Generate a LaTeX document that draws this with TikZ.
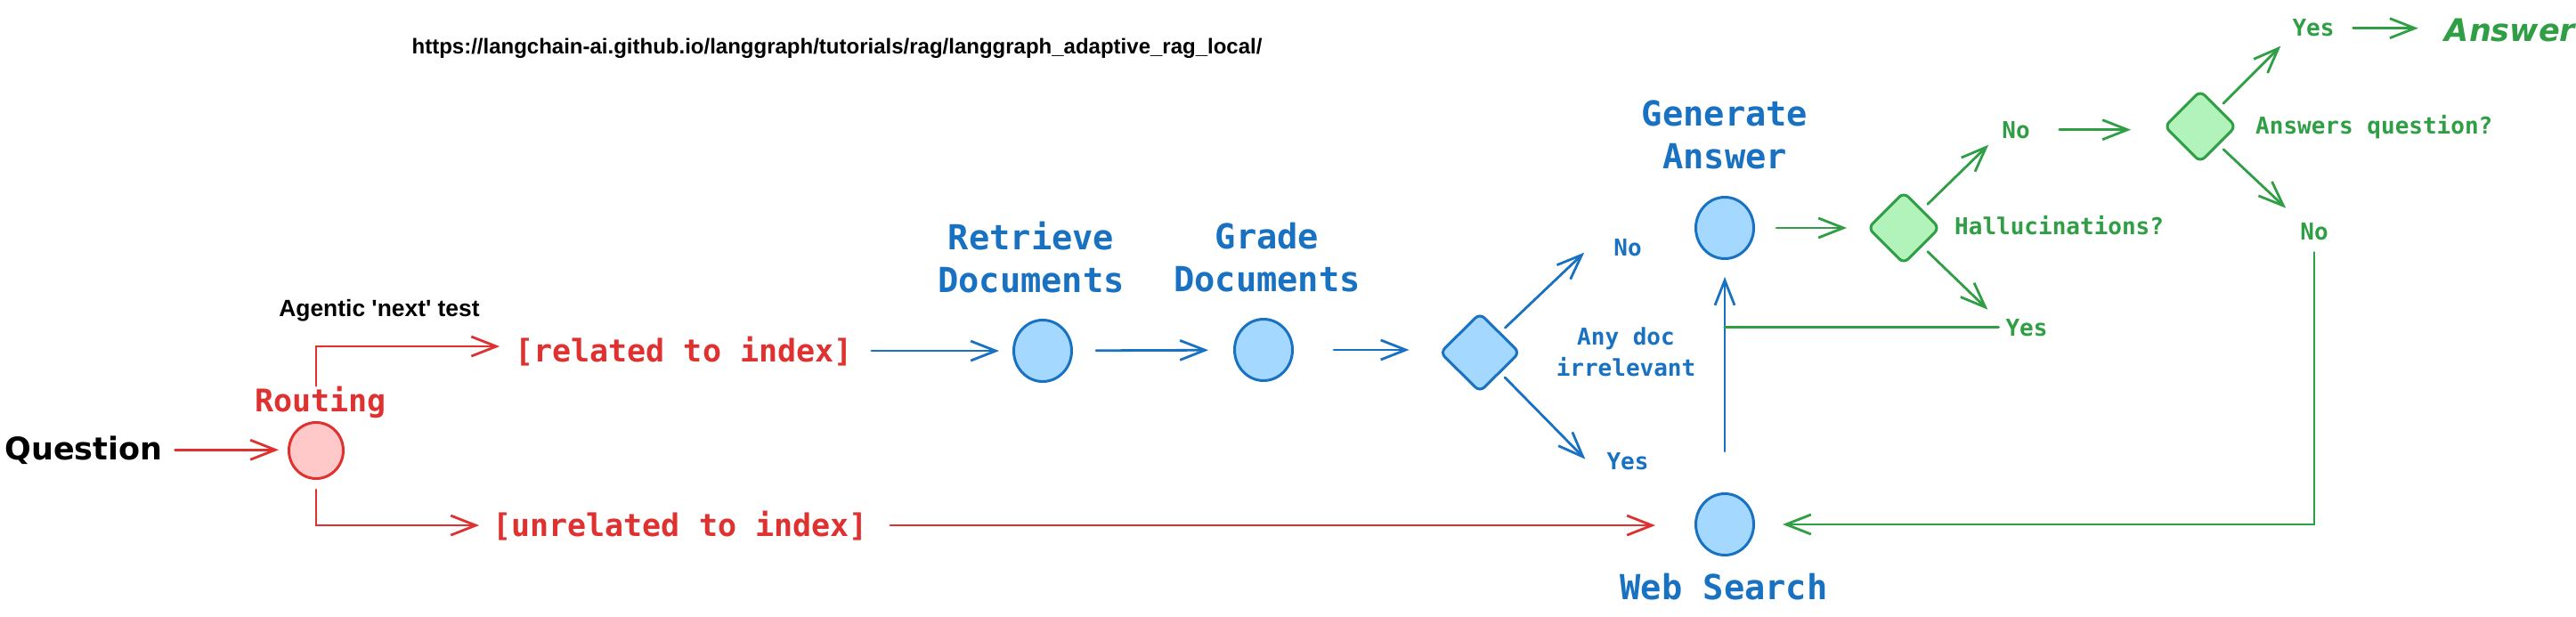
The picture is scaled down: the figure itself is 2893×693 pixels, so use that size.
\documentclass[tikz,border=0pt]{standalone}
\usepackage{fontspec}
\usepackage{tikz}
\usetikzlibrary{arrows.meta,shapes.geometric}
\newfontfamily\rgmono{DejaVu Sans Mono Bold}
\newfontfamily\rgsans{Liberation Sans}
\newfontfamily\rghand{DejaVu Sans}
\definecolor{rgred}{RGB}{224,49,49}
\definecolor{rgredfill}{RGB}{255,201,201}
\definecolor{rgblue}{RGB}{25,113,194}
\definecolor{rgbluefill}{RGB}{165,216,255}
\definecolor{rggreen}{RGB}{47,158,68}
\definecolor{rggreenfill}{RGB}{178,242,187}
\tikzset{
  lbl/.style={inner sep=0pt,anchor=base},
  headfont/.style={font=\rgsans\bfseries\fontsize{26.4}{30}\selectfont},
  redfont/.style={font=\rgmono\fontsize{35}{42}\selectfont,text=rgred},
  bigfont/.style={font=\rgmono\fontsize{38.7}{48}\selectfont,text=rgblue,align=center},
  smallfont/.style={font=\rgmono\fontsize{26}{35}\selectfont},
  redcirc/.style={ellipse,draw=rgred,fill=rgredfill,line width=3pt,
    minimum width=61pt,minimum height=63pt,inner sep=0pt},
  bluecirc/.style={ellipse,draw=rgblue,fill=rgbluefill,line width=3pt,
    minimum width=65pt,minimum height=69pt,inner sep=0pt},
  bluedia/.style={diamond,draw=rgblue,fill=rgbluefill,line width=3pt,
    rounded corners=7pt,minimum width=90pt,minimum height=89pt,inner sep=0pt},
  greendia/.style={diamond,draw=rggreen,fill=rggreenfill,line width=3pt,
    rounded corners=7pt,minimum width=81pt,minimum height=81pt,inner sep=0pt},
  tip/.style={-{Straight Barb[length=28pt,width=22pt]}},
  redarr/.style={draw=rgred,line width=2.8pt,line cap=round,tip},
  bluearr/.style={draw=rgblue,line width=2.8pt,line cap=round,tip},
  greenarr/.style={draw=rggreen,line width=2.8pt,line cap=round,tip},
}

\begin{document}
\begin{tikzpicture}[x=1pt,y=-1pt]
  \fill[white] (0,0) rectangle (2893,693);
  \useasboundingbox (0,0) rectangle (2893,693);
  % texts in black
  \node[lbl,font=\rgsans\bfseries\fontsize{24}{28}\selectfont] (url) at (940,61)
    {https://langchain-ai.github.io/langgraph/tutorials/rag/langgraph\_adaptive\_rag\_local/};
  \node[lbl,headfont] (agentic) at (426,355) {Agentic 'next' test};
  \node[lbl,font=\rghand\bfseries\fontsize{35}{40}\selectfont] (question) at (94,516) {Question};
  % routing
  \node[redcirc] (route) at (355,506) {};
  \node[lbl,redfont] (routelbl) at (360,462) {Routing};
  \node[lbl,redfont] (related) at (768,406) {[related to index]};
  \node[lbl,redfont] (unrelated) at (764,602) {[unrelated to index]};
  % blue steps
  \node[bluecirc] (retrieve) at (1171,394) {};
  \node[bigfont,inner sep=0pt] (retrievelbl) at (1158,289) {Retrieve\\Documents};
  \node[bluecirc] (grade) at (1419,393) {};
  \node[bigfont,inner sep=0pt] (gradelbl) at (1423,289) {Grade\\Documents};
  \node[bluedia] (anydoc) at (1662,396) {};
  \node[smallfont,text=rgblue,align=center,inner sep=0pt] (anydoclbl) at (1826,395) {Any doc\\irrelevant};
  \node[lbl,smallfont,text=rgblue] (noblue) at (1828,287) {No};
  \node[lbl,smallfont,text=rgblue] (yesblue) at (1828,527) {Yes};
  \node[bluecirc] (generate) at (1937,256) {};
  \node[bigfont,inner sep=0pt] (generatelbl) at (1937,151) {Generate\\Answer};
  \node[bluecirc] (websearch) at (1937,589) {};
  \node[lbl,bigfont] (websearchlbl) at (1936,673) {Web Search};
  % green checks
  \node[greendia] (hallu) at (2138,256) {};
  \node[lbl,smallfont,text=rggreen,anchor=base west] (hallulbl) at (2195,263) {Hallucinations?};
  \node[lbl,smallfont,text=rggreen] (nogreen) at (2264,155) {No};
  \node[lbl,smallfont,text=rggreen] (yesgreen) at (2276,377) {Yes};
  \node[greendia] (answersq) at (2471,142) {};
  \node[lbl,smallfont,text=rggreen,anchor=base west] (answersqlbl) at (2533,150) {Answers question?};
  \node[lbl,smallfont,text=rggreen] (yestop) at (2598,41) {Yes};
  \node[lbl,smallfont,text=rggreen] (nolast) at (2599,269) {No};
  \node[lbl,font=\rghand\bfseries\itshape\fontsize{35}{40}\selectfont,text=rggreen] (answer) at (2819,47) {Answer};
  \coordinate (join) at (websearch.north |- yesgreen.west);
  % red connectors
  \draw[redarr,shorten <=14pt,shorten >=10pt] (question.east) -- (question.east -| route.west);
  \draw[redarr,shorten >=17pt] (route.north |- routelbl.north) |- ([yshift=5pt]related.west);
  \draw[redarr,shorten <=11pt,shorten >=15pt] (route.south) |- (unrelated.west);
  \draw[redarr,shorten <=25pt,shorten >=44pt] (unrelated.east) -- (unrelated.east -| websearch.west);
  % blue connectors
  \draw[bluearr,shorten <=21pt,shorten >=15pt] (related.east) -- (related.east -| retrieve.west);
  \draw[bluearr,shorten <=26pt,shorten >=28pt] (retrieve) -- (grade);
  \draw[bluearr,shorten <=45pt,shorten >=33pt] (grade.east) -- (grade.east -| anydoc.west);
  \draw[bluearr,shorten <=7pt] (anydoc.north east) -- ([xshift=-33pt,yshift=-6pt]noblue.west);
  \draw[bluearr,shorten <=7pt] (anydoc.south east) -- ([xshift=-24pt,yshift=2pt]yesblue.west);
  \draw[bluearr,shorten <=46pt,shorten >=19pt] (websearch.north) -- (generate.south);
  % green connectors
  \draw[greenarr,shorten <=24pt,shorten >=22pt] (generate.east) -- (hallu.west);
  \draw[greenarr,shorten <=8pt] (hallu.north east) -- ([xshift=-15pt,yshift=-17pt]nogreen.west);
  \draw[greenarr,shorten <=8pt] (hallu.south east) -- ([xshift=-20pt,yshift=20pt]yesgreen.west);
  \draw[draw=rggreen,line width=3.4pt,line cap=round,shorten <=8pt] (yesgreen.west) -- (join);
  \draw[greenarr,shorten <=33pt,shorten >=36pt] (nogreen.east) -- (nogreen.east -| answersq.west);
  \draw[greenarr,shorten <=7pt] (answersq.north east) -- ([xshift=-13pt,yshift=-20pt]yestop.west);
  \draw[greenarr,shorten <=7pt] (answersq.south east) -- ([xshift=-16pt,yshift=26pt]nolast.west);
  \draw[greenarr,shorten <=21pt,shorten >=30pt] (yestop.east) -- (yestop.east -| answer.west);
  \draw[greenarr,shorten <=14pt,shorten >=31pt] (nolast.south) |- (websearch.east);
\end{tikzpicture}
\end{document}
